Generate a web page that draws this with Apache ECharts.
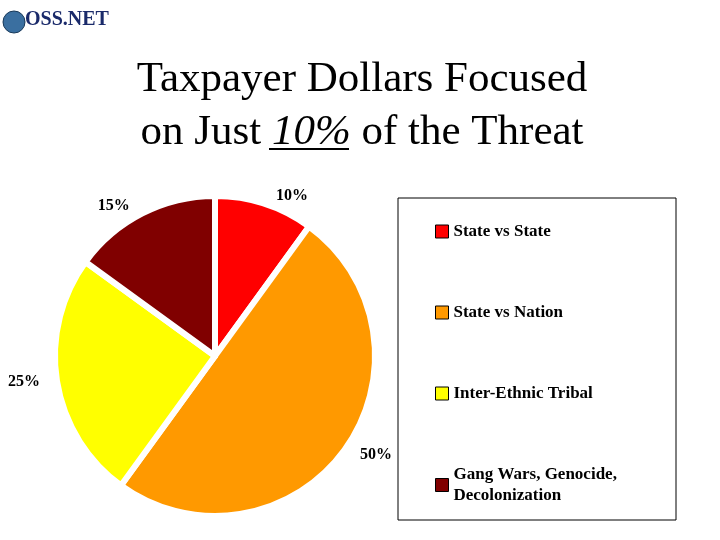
<!DOCTYPE html>
<html><head><meta charset="utf-8">
<script src="https://cdn.jsdelivr.net/npm/echarts@6/dist/echarts.min.js"></script>
<style>body{margin:0}#c{width:720px;height:540px}</style></head>
<body><div id="c"></div>
<script>
const categories=['State vs State','State vs Nation','Inter-Ethnic Tribal','Gang Wars, Genocide,\nDecolonization'];
const values=[10,50,25,15];
const colors=['#ff0000','#ff9900','#ffff00','#800000'];
const chart=echarts.init(document.getElementById('c'));
const serif='"Liberation Serif","Times New Roman",serif';
chart.setOption({
  backgroundColor:'#fff',
  animation:false,
  title:{text:'Taxpayer Dollars Focused\non Just {u|10%} of the Threat',left:357,top:48,textAlign:'center',
    textStyle:{fontFamily:serif,fontSize:43,fontWeight:'normal',color:'#000',lineHeight:53,
      rich:{u:{fontFamily:serif,fontSize:43,fontStyle:'italic'}}}},
  graphic:[
    {type:'rect',shape:{x:398,y:198,width:278,height:322},style:{fill:'none',stroke:'#000',lineWidth:1}},
    {type:'line',shape:{x1:269,y1:149,x2:349,y2:149},style:{stroke:'#000',lineWidth:2}},
    {type:'circle',shape:{cx:14,cy:22,r:11},style:{fill:'#3a6fa0',stroke:'#1a3a5a'}},
    {type:'text',left:25,top:10,style:{text:'OSS.NET',fontFamily:serif,fontWeight:'bold',fontSize:20,fill:'#1a2a6a'}}
  ],
  legend:{orient:'vertical',left:430,top:216,itemWidth:13,itemHeight:13,itemGap:60,
    icon:'rect',data:categories,
    itemStyle:{borderColor:'#000',borderWidth:1},
    textStyle:{fontFamily:serif,fontWeight:'bold',fontSize:17,color:'#000',lineHeight:21}},
  series:[{type:'pie',center:[215,356],radius:[0,160],startAngle:90,clockwise:true,
    data:categories.map((c,i)=>({name:c,value:values[i],itemStyle:{color:colors[i]}})),
    itemStyle:{borderColor:'#fff',borderWidth:6},
    label:{show:true,position:'outside',formatter:'{c}%',fontFamily:serif,fontWeight:'bold',fontSize:16,color:'#000',overflow:'none'},
    labelLine:{show:false,length:8,length2:4}
  }]
});
</script></body></html>
